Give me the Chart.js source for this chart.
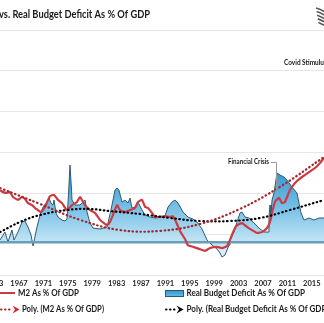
<!DOCTYPE html>
<html><head><meta charset="utf-8">
<script src="https://cdn.jsdelivr.net/npm/chart.js@4.4.1/dist/chart.umd.min.js"></script>
<style>html,body{margin:0;padding:0;background:#fff;overflow:hidden}#wrap{position:relative;width:324px;height:323px}</style>
</head><body><div id="wrap"><canvas id="c" width="324" height="323"></canvas></div>
<script>
const tickYears = [1963,1967,1971,1975,1979,1983,1987,1991,1995,1999,2003,2007,2011,2015];

const m2Years = [1963.89,1964.38,1965.03,1965.52,1966.02,1966.84,1967.49,1967.98,1968.48,1969.13,1969.62,1970.11,1970.61,1971.26,1972.08,1972.74,1973.39,1974.05,1974.87,1975.69,1976.51,1977.00,1977.82,1978.64,1979.46,1980.28,1980.93,1981.43,1981.92,1982.41,1983.07,1983.56,1984.38,1985.20,1986.02,1986.51,1987.16,1987.66,1988.15,1988.80,1989.30,1990.11,1990.93,1991.75,1992.25,1992.90,1993.39,1994.21,1994.70,1995.52,1996.51,1997.49,1998.31,1999.46,2000.28,2001.10,2001.59,2002.25,2002.74,2003.56,2004.38,2005.20,2006.02,2006.84,2007.66,2008.15,2008.48,2008.97,2009.62,2010.11,2010.61,2011.26,2011.75,2012.57,2013.39,2014.54,2015.52,2016.34,2017.00];
const m2Values = [60.8,60.3,60.1,60.3,59.1,58.4,59.1,58.6,57.6,57.1,56.4,55.9,55.4,56.7,59.3,59.6,58.4,57.6,55.9,57.1,57.9,59.1,57.1,55.9,55.2,53.5,52.7,52.2,53.0,54.7,57.1,55.9,55.4,55.9,56.4,57.9,58.4,56.7,56.4,55.2,54.2,54.2,54.4,54.2,54.4,52.5,50.8,48.8,47.3,46.9,46.4,45.9,46.6,46.9,46.6,47.1,48.6,51.0,52.2,52.7,51.8,51.0,50.3,50.5,51.5,53.0,55.2,57.9,58.9,57.6,57.9,60.3,61.6,63.0,64.0,65.2,66.2,67.4,68.7];

const deficitYears = [1963.89,1964.70,1965.20,1965.85,1966.18,1966.84,1967.49,1967.98,1968.48,1968.97,1969.30,1969.95,1970.44,1970.93,1971.59,1971.92,1972.25,1972.57,1972.74,1973.07,1973.39,1974.05,1974.54,1974.87,1975.11,1975.36,1975.61,1975.69,1976.18,1977.00,1977.82,1978.15,1978.64,1979.13,1980.28,1981.43,1982.08,1982.74,1983.07,1983.39,1983.89,1984.38,1984.87,1985.20,1985.52,1986.02,1986.51,1987.16,1987.66,1988.48,1989.30,1990.11,1990.93,1991.43,1992.08,1992.57,1993.07,1993.89,1994.70,1995.52,1996.34,1997.00,1997.82,1998.64,1999.46,1999.95,2000.28,2000.77,2001.10,2001.43,2001.59,2002.25,2002.74,2003.23,2003.56,2004.05,2004.70,2005.52,2006.34,2007.16,2007.82,2007.98,2008.15,2008.31,2008.48,2008.80,2009.30,2009.79,2010.44,2010.93,2011.75,2012.57,2012.90,2013.23,2013.72,2014.54,2015.36,2016.18,2017.00];
const deficitValues = [0.28,1.26,0.04,1.51,0.28,1.26,2.49,2.61,1.87,0.89,-0.45,1.87,3.34,4.32,4.93,5.42,4.81,4.57,5.18,3.59,3.10,2.73,2.61,2.85,5.79,9.46,6.40,5.18,4.57,4.57,5.18,3.71,2.36,1.75,1.63,1.87,3.96,6.40,6.65,6.40,4.93,5.18,4.81,5.42,4.20,4.32,4.93,3.96,3.34,3.10,2.98,3.10,3.22,4.32,4.93,5.18,4.81,3.71,3.10,2.85,2.36,1.63,0.28,-0.33,-0.82,-1.31,-1.80,-1.56,-0.94,-0.33,0.28,1.26,2.49,3.59,3.71,3.10,2.98,2.36,1.75,1.26,1.26,3.10,4.57,3.34,5.18,6.04,8.49,8.24,8.00,7.63,6.77,6.04,4.81,3.59,2.73,2.98,2.73,2.98,2.98];

const m2TrendYears = [1963.89,1970.44,1977.00,1983.56,1990.11,1996.67,2003.23,2009.79,2017.00];
const m2TrendValues = [61.3,57.4,53.5,51.0,50.8,52.5,56.2,61.6,68.9];
const deficitTrendYears = [1963.89,1967.16,1970.44,1974.87,1978.64,1981.92,1986.84,1991.75,1996.67,2001.59,2006.51,2011.43,2017.00];
const deficitTrendValues = [1.26,2.49,3.34,3.96,4.08,3.83,3.47,2.98,2.61,2.61,2.98,3.96,5.18];

const titleText = 'vs. Real Budget Deficit As % Of GDP';
const seriesNames = ['M2 As % Of GDP','Real Budget Deficit As % Of GDP','Poly. (M2 As % Of GDP)','Poly. (Real Budget Deficit As % Of GDP)'];
const noteCovid = 'Covid Stimulus';
const noteCrisis = 'Financial Crisis';

const pts = (xs, ys) => xs.map((x, i) => ({x, y: ys[i]}));
const RED = '#cc3b41', DRED = '#a3262c', OUT = '#2d5b73';
const FONT = 'Lato, "Open Sans", sans-serif';

function txt(ctx, s, x, y, size, targetW, measure, color) {
  ctx.save();
  ctx.font = 'bold ' + size + 'px ' + FONT;
  const w = ctx.measureText(measure || s).width;
  const sx = targetW ? targetW / w : 1;
  ctx.translate(x, y); ctx.scale(sx, 1);
  ctx.textBaseline = 'middle'; ctx.textAlign = 'left';
  ctx.fillStyle = color || '#1a1a1a';
  ctx.fillText(s, 0, 0);
  ctx.restore();
  return sx;
}
function chevron(ctx, x, y, color) {
  ctx.save(); ctx.fillStyle = color; ctx.beginPath();
  ctx.moveTo(x, y - 4); ctx.lineTo(x + 7, y); ctx.lineTo(x, y + 4); ctx.lineTo(x + 2.5, y); ctx.closePath(); ctx.fill(); ctx.restore();
}
function dots(ctx, x0, x1, y, color) {
  ctx.save(); ctx.strokeStyle = color; ctx.lineWidth = 2; ctx.lineCap = 'round'; ctx.setLineDash([0.5, 3.5]);
  ctx.beginPath(); ctx.moveTo(x0, y); ctx.lineTo(x1, y); ctx.stroke(); ctx.restore();
}

const decor = {
  id: 'decor',
  afterDraw(chart) {
    const ctx = chart.ctx;
    txt(ctx, titleText, -1, 14, 11, 151);
    // partial logo at the top right corner
    ctx.save(); ctx.strokeStyle = '#555'; ctx.lineWidth = 1.6;
    for (let i = 0; i < 5; i++) { ctx.beginPath(); ctx.moveTo(316 + i * 0.6, 8 + i * 3.6); ctx.quadraticCurveTo(320, 9 + i * 3.6, 325, 12 + i * 3.4); ctx.stroke(); }
    ctx.restore();
    txt(ctx, noteCovid, 284, 63, 7.5, 40, 'Covid Stimulu');
    txt(ctx, noteCrisis, 228, 162, 7.5, 41);
    ctx.save(); ctx.strokeStyle = '#9a9a9a'; ctx.lineWidth = 1;
    ctx.beginPath(); ctx.moveTo(271, 162.5); ctx.lineTo(276.5, 162.5); ctx.lineTo(276.5, 192); ctx.stroke(); ctx.restore();
    ctx.save(); ctx.strokeStyle = RED; ctx.lineWidth = 2; ctx.beginPath(); ctx.moveTo(0, 293); ctx.lineTo(15, 293); ctx.stroke(); ctx.restore();
    txt(ctx, seriesNames[0], 18, 293, 8.5, 61);
    ctx.save();
    const g = ctx.createLinearGradient(0, 290, 0, 297); g.addColorStop(0, '#2f93cb'); g.addColorStop(1, '#6cc0e8');
    ctx.fillStyle = g; ctx.fillRect(165.5, 290.5, 18, 6); ctx.strokeStyle = OUT; ctx.lineWidth = 1; ctx.strokeRect(165.5, 290.5, 18, 6); ctx.restore();
    const sx = txt(ctx, seriesNames[1], 186.5, 293, 8.5, 118.5);
    dots(ctx, 1, 12, 309.5, DRED); chevron(ctx, 12.5, 309.5, '#d2262c');
    txt(ctx, seriesNames[2], 22, 309.5, 8.5, 82);
    dots(ctx, 166, 176, 309.5, '#000'); chevron(ctx, 176.5, 309.5, '#000');
    ctx.save(); ctx.font = 'bold 8.5px ' + FONT; ctx.translate(186.5, 309.5); ctx.scale(sx, 1);
    ctx.textBaseline = 'middle'; ctx.fillStyle = '#1a1a1a'; ctx.fillText(seriesNames[3], 0, 0); ctx.restore();
  }
};

new Chart(document.getElementById('c'), {
  type: 'line',
  data: {
    datasets: [
      {label: seriesNames[2], data: pts(m2TrendYears, m2TrendValues), yAxisID: 'y', borderColor: DRED, borderWidth: 2.2, borderDash: [0.5, 3.5], borderCapStyle: 'round', tension: 0.4, pointRadius: 0, fill: false, order: 0},
      {label: seriesNames[3], data: pts(deficitTrendYears, deficitTrendValues), yAxisID: 'y2', borderColor: '#000', borderWidth: 2.2, borderDash: [0.5, 3.5], borderCapStyle: 'round', tension: 0.4, pointRadius: 0, fill: false, order: 1},
      {label: seriesNames[0], data: pts(m2Years, m2Values), yAxisID: 'y', borderColor: RED, borderWidth: 2.2, tension: 0.15, pointRadius: 0, fill: false, order: 2},
      {label: 'zero', data: [{x: 1963.885, y: 0}, {x: 2017, y: 0}], yAxisID: 'y2', borderColor: '#6a9db6', borderWidth: 2.5, pointRadius: 0, fill: false, order: 3},
      {label: seriesNames[1], data: pts(deficitYears, deficitValues), yAxisID: 'y2', borderColor: OUT, borderWidth: 1, tension: 0, pointRadius: 0, fill: 'origin', order: 4,
        backgroundColor: (c) => {
          const ch = c.chart; if (!ch.chartArea || !ch.scales.y2) return '#7cc5e8';
          const s = ch.scales.y2; const g = ch.ctx.createLinearGradient(0, s.getPixelForValue(9.5), 0, s.getPixelForValue(-2));
          g.addColorStop(0, '#2a90cc'); g.addColorStop(0.5, '#7fc4e8'); g.addColorStop(0.85, '#c9e8f6'); g.addColorStop(1, '#e4f4fb');
          return g;
        }}
    ]
  },
  options: {
    responsive: false, animation: false, devicePixelRatio: 1,
    layout: {padding: {top: 30, left: 0, right: 0, bottom: 0}},
    plugins: {legend: {display: false}, title: {display: false}, tooltip: {enabled: false}},
    scales: {
      x: {type: 'linear', min: 1963.885, max: 2017.0,
        grid: {display: false, drawTicks: false}, border: {display: false},
        ticks: {autoSkip: false, maxRotation: 0, padding: 4, color: '#262626', font: {family: '"Liberation Sans Narrow", ' + FONT, size: 7.5, weight: 'bold'}, callback: v => String(v)},
        afterBuildTicks: s => { s.ticks = tickYears.map(v => ({value: v})); },
        afterFit: s => { s.height = 48; s.paddingLeft = 0; s.paddingRight = 0; }},
      y: {position: 'left', min: 40, max: 100, ticks: {display: false, stepSize: 10}, grid: {color: '#e6e6e6', drawTicks: false}, border: {display: false}, afterFit: s => { s.width = 0; s.paddingTop = 0; s.paddingBottom = 0; }},
      y2: {position: 'right', min: -4, max: 26, display: false}
    }
  },
  plugins: [decor]
});
</script></body></html>
